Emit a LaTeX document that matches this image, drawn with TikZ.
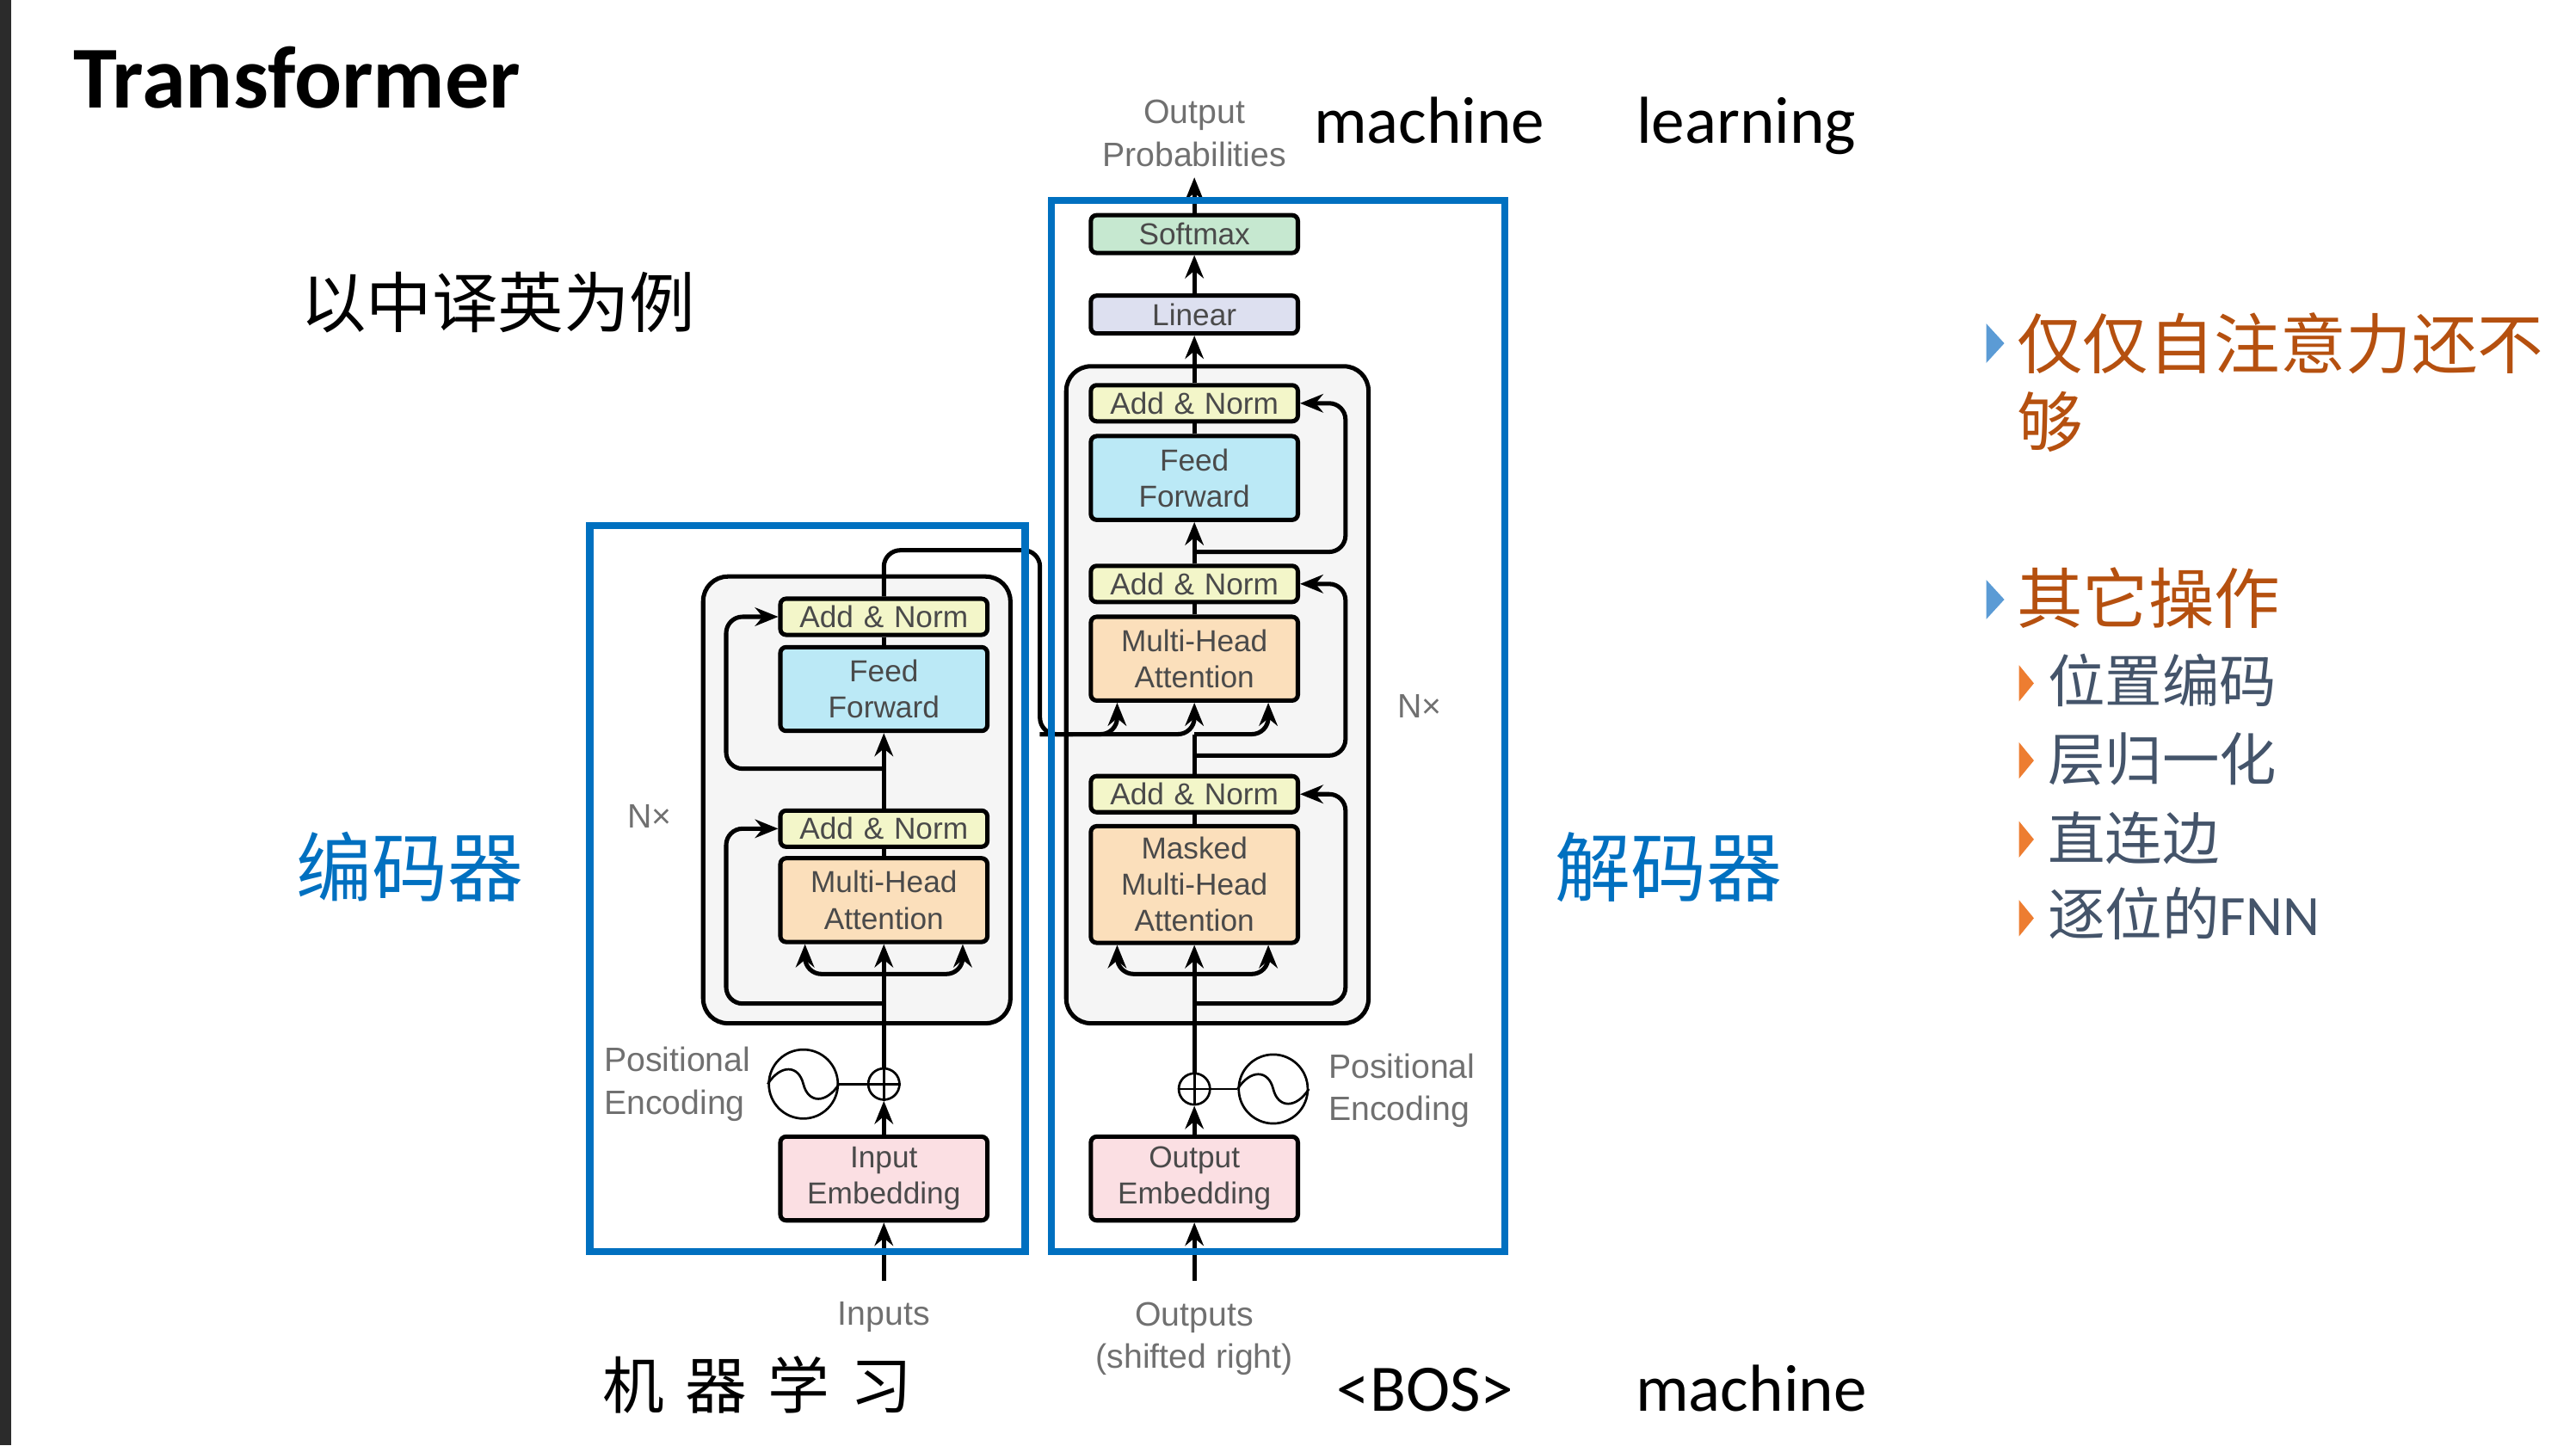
\documentclass[tikz,border=0pt]{standalone}
\usepackage{fontspec}
\setmainfont{Liberation Sans}
\newfontfamily\cjk{Noto Sans CJK SC}
\newfontfamily\calibri{Carlito}
\usetikzlibrary{arrows.meta, calc, backgrounds}
\definecolor{frameblue}{HTML}{0070C0}
\definecolor{headbrown}{HTML}{B5500F}
\definecolor{subslate}{HTML}{44546A}
\definecolor{bulletblue}{HTML}{5B9BD5}
\definecolor{bulletorange}{HTML}{ED7D31}
\definecolor{stripedark}{HTML}{2B2B2B}
\definecolor{labelgray}{HTML}{707070}
\definecolor{boxtext}{HTML}{4A4A4A}
\definecolor{normbg}{HTML}{F3F6C9}
\definecolor{feedbg}{HTML}{BBE9F6}
\definecolor{attnbg}{HTML}{FBDFBB}
\definecolor{embedbg}{HTML}{FBDFE3}
\definecolor{softbg}{HTML}{C6E8D0}
\definecolor{linearbg}{HTML}{DDE0F0}
\definecolor{stackbg}{HTML}{F5F5F5}

\begin{document}
\begin{tikzpicture}[
    font=\fontsize{5.25pt}{6.26pt}\selectfont,
    >={Stealth[length=4pt, width=3.2pt]},
    % ── shared styles ──
    block/.style={draw=black, line width=0.75pt, rounded corners=1pt,
        minimum width=1.26cm, text width=1.22cm, align=center, inner sep=0pt,
        text=boxtext, fill=#1},
    norm box/.style={block=normbg, minimum height=0.22cm},
    tall box/.style={block=#1, minimum height=0.51cm},
    stack box/.style={draw=black, line width=0.75pt, rounded corners=0.15cm,
        fill=stackbg},
    frame box/.style={draw=frameblue, line width=1.3pt},
    flow/.style={draw=black, line width=0.75pt},
    loop flow/.style={flow, rounded corners=0.1cm},
    sum node/.style={draw=black, circle, line width=0.4pt, minimum size=0.19cm,
        inner sep=0pt},
    wave node/.style={draw=black, circle, line width=0.4pt, minimum size=0.42cm,
        inner sep=0pt},
    wave line/.style={draw=black, line width=0.4pt},
    gray label/.style={font=\fontsize{5.85pt}{7.4pt}\selectfont, text=labelgray, align=#1},
    gray label/.default=center,
    latin label/.style={font=\calibri\fontsize{11.5pt}{14pt}\selectfont, text=black, anchor=base},
    title label/.style={font=\calibri\bfseries\fontsize{15.3pt}{18pt}\selectfont, text=black},
    cjk label/.style={font=\cjk\fontsize{11.4pt}{14pt}\selectfont, text=black},
    side label/.style={font=\cjk\fontsize{13.1pt}{16pt}\selectfont, text=frameblue},
    head item/.style={font=\cjk\fontsize{11.4pt}{14pt}\selectfont, text=headbrown, anchor=west, inner sep=0pt},
    sub item/.style={font=\cjk\fontsize{9.9pt}{12pt}\selectfont, text=subslate, anchor=west, inner sep=0pt},
    head bullet/.style={fill=bulletblue},
    sub bullet/.style={fill=bulletorange},
]

\useasboundingbox (0,0) rectangle (15.68,-8.8);
\fill[stripedark] (0,0) rectangle (0.07,-8.8);

% ══════════════════════════════════════════════════════════════════════
%  DIMENSIONS
% ══════════════════════════════════════════════════════════════════════
\def\Ecx{5.38}    % encoder column
\def\Dcx{7.27}    % decoder column

% ══════════════════════════════════════════════════════════════════════
%  STACK BACKGROUNDS
% ══════════════════════════════════════════════════════════════════════
\begin{scope}[on background layer]
  \draw[stack box] (4.28,-3.51) rectangle (6.15,-6.23);
  \draw[stack box] (6.49,-2.23) rectangle (8.33,-6.23);
\end{scope}

% ── Encoder ──
\node[tall box=embedbg] (einput) at (\Ecx,-7.175) {Input\\Embedding};
\node[sum node] (esum) at (\Ecx,-6.60) {};
\node[wave node] (ewave) at (4.89,-6.60) {};
\node[tall box=attnbg] (eattn) at (\Ecx,-5.48) {Multi-Head\\Attention};
\node[norm box] (enorma) at (\Ecx,-5.045) {Add \& Norm};
\node[tall box=feedbg] (efeed) at (\Ecx,-4.195) {Feed\\Forward};
\node[norm box] (enormb) at (\Ecx,-3.755) {Add \& Norm};

% ── Decoder ──
\node[tall box=embedbg] (doutput) at (\Dcx,-7.175) {Output\\Embedding};
\node[sum node] (dsum) at (\Dcx,-6.63) {};
\node[wave node] (dwave) at (7.75,-6.63) {};
\node[block=attnbg, minimum height=0.71cm] (dmask) at (\Dcx,-5.385) {Masked\\Multi-Head\\Attention};
\node[norm box] (dnorma) at (\Dcx,-4.835) {Add \& Norm};
\node[tall box=attnbg] (dattn) at (\Dcx,-4.01) {Multi-Head\\Attention};
\node[norm box] (dnormb) at (\Dcx,-3.555) {Add \& Norm};
\node[tall box=feedbg] (dfeed) at (\Dcx,-2.91) {Feed\\Forward};
\node[norm box] (dnormc) at (\Dcx,-2.455) {Add \& Norm};
\node[block=linearbg, minimum height=0.23cm] (dlinear) at (\Dcx,-1.915) {Linear};
\node[block=softbg, minimum height=0.23cm] (dsoft) at (\Dcx,-1.425) {Softmax};

% ── Free ends and branch points ──
\coordinate (einfree) at (\Ecx,-7.80);
\coordinate (dinfree) at (\Dcx,-7.80);
\coordinate (doutfree) at (\Dcx,-1.08);
\coordinate (eresa) at (\Ecx,-6.11);
\coordinate (eresb) at (\Ecx,-4.68);
\coordinate (eforka) at (\Ecx,-5.93);
\coordinate (ememdown) at (6.33,-4.47);
\coordinate (dforka) at (\Dcx,-5.93);
\coordinate (dresa) at (\Dcx,-6.11);
\coordinate (dresb) at (\Dcx,-4.60);
\coordinate (dresc) at (\Dcx,-3.36);
\coordinate (dskip) at (\Dcx,-4.47);

% ══════════════════════════════════════════════════════════════════════
%  FLOW ARROWS
% ══════════════════════════════════════════════════════════════════════
\draw[flow, ->] (einfree) -- (einput.south);
\draw[flow, ->] (einput.north) -- (esum.south);
\draw[flow, ->] (esum.north) -- (eattn.south);
\draw[flow] (eattn.north) -- (enorma.south);
\draw[flow, ->] (enorma.north) -- (efeed.south);
\draw[flow] (efeed.north) -- (enormb.south);
\draw[wave line] (ewave.east) -- (esum.west);
\draw[wave line] (esum.west) -- (esum.east);
\draw[wave line] (esum.north) -- (esum.south);

\draw[flow, ->] (dinfree) -- (doutput.south);
\draw[flow, ->] (doutput.north) -- (dsum.south);
\draw[flow, ->] (dsum.north) -- (dmask.south);
\draw[flow] (dmask.north) -- (dnorma.south);
\draw[flow] (dnorma.north) -- (dskip);
\draw[flow] (dattn.north) -- (dnormb.south);
\draw[flow, ->] (dnormb.north) -- (dfeed.south);
\draw[flow] (dfeed.north) -- (dnormc.south);
\draw[flow, ->] (dnormc.north) -- (dlinear.south);
\draw[flow, ->] (dlinear.north) -- (dsoft.south);
\draw[flow, ->] (dsoft.north) -- (doutfree);
\draw[wave line] (dwave.west) -- (dsum.east);
\draw[wave line] (dsum.west) -- (dsum.east);
\draw[wave line] (dsum.north) -- (dsum.south);

% ── Residual loops ──
\draw[loop flow, ->] (eresa) -| (4.42,-5.4) |- (enorma.west);
\draw[loop flow, ->] (eresb) -| (4.42,-4.2) |- (enormb.west);
\draw[loop flow, ->] (dresa) -| (8.19,-5.4) |- (dnorma.east);
\draw[loop flow, ->] (dresb) -| (8.19,-4.0) |- (dnormb.east);
\draw[loop flow, ->] (dresc) -| (8.19,-2.9) |- (dnormc.east);

% ── Attention forks ──
\draw[loop flow, ->] (eforka) -| ([xshift=-0.48cm]eattn.south);
\draw[loop flow, ->] (eforka) -| ([xshift=0.48cm]eattn.south);
\draw[loop flow, ->] (dforka) -| ([xshift=-0.47cm]dmask.south);
\draw[loop flow, ->] (dforka) -| ([xshift=0.45cm]dmask.south);

% ── Encoder memory into the decoder ──
\draw[loop flow] (enormb.north) |- (6.33,-3.35) -- (ememdown) -- ++(0.2,0);
\draw[loop flow, ->] (ememdown) -| ([xshift=-0.47cm]dattn.south);
\draw[loop flow, ->] (ememdown) -| (dattn.south);
\draw[loop flow, ->] (dskip) -| ([xshift=0.45cm]dattn.south);

% ── Wave curves ──
\draw[wave line] (ewave.west) .. controls (4.75,-6.48) and (4.86,-6.48) .. (ewave.center)
    .. controls (4.92,-6.72) and (5.03,-6.72) .. (ewave.east);
\draw[wave line] (dwave.west) .. controls (7.61,-6.51) and (7.72,-6.51) .. (dwave.center)
    .. controls (7.78,-6.75) and (7.89,-6.75) .. (dwave.east);

% ══════════════════════════════════════════════════════════════════════
%  FRAMES + side captions
% ══════════════════════════════════════════════════════════════════════
\draw[frame box] (3.59,-3.20) rectangle (6.24,-7.62);
\draw[frame box] (6.40,-1.22) rectangle (9.16,-7.62);
\node[side label] (encname) at (2.495,-5.28) {编码器};
\node[side label] (decname) at (10.155,-5.28) {解码器};

% ── Diagram labels ──
\node[gray label] (outprob) at (\Dcx,-0.81) {Output\\Probabilities};
\node[gray label] (inlabel) at (\Ecx,-8.02) {Inputs};
\node[gray label] (outlabel) at (\Dcx,-8.15) {Outputs\\(shifted right)};
\node[gray label] (enx) at (3.955,-4.97) {N×};
\node[gray label] (dnx) at (8.64,-4.30) {N×};
\node[gray label=left, anchor=west, inner sep=0pt] (epos) at (3.67,-6.60) {Positional\\Encoding};
\node[gray label=left, anchor=west, inner sep=0pt] (dpos) at (8.08,-6.64) {Positional\\Encoding};

% ── Slide text ──
\node[title label, anchor=west, inner sep=0pt] (title) at (0.44,-0.47) {Transformer};
\node[cjk label] (subtitle) at (3.03,-1.84) {以中译英为例};
\node[latin label] (wordmachine) at (8.70,-0.87) {machine};
\node[latin label] (wordlearning) at (10.63,-0.87) {learning};
\node[cjk label, font=\cjk\fontsize{10.7pt}{13pt}\selectfont] (wordzh) at (4.61,-8.43) {\spaceskip=0.34em 机 器 学 习};
\node[latin label] (wordbos) at (8.675,-8.59) {<BOS>};
\node[latin label] (wordmachineb) at (10.66,-8.59) {machine};

% ══════════════════════════════════════════════════════════════════════
%  BULLET LIST
% ══════════════════════════════════════════════════════════════════════
\fill[head bullet] (12.09,-1.97) -- (12.20,-2.09) -- (12.09,-2.21) -- cycle;
\fill[head bullet] (12.09,-3.53) -- (12.20,-3.65) -- (12.09,-3.77) -- cycle;
\fill[sub bullet] (12.29,-4.05) -- (12.38,-4.16) -- (12.29,-4.27) -- cycle;
\fill[sub bullet] (12.29,-4.52) -- (12.38,-4.63) -- (12.29,-4.74) -- cycle;
\fill[sub bullet] (12.29,-5.00) -- (12.38,-5.11) -- (12.29,-5.22) -- cycle;
\fill[sub bullet] (12.29,-5.48) -- (12.38,-5.59) -- (12.29,-5.70) -- cycle;
\node[head item] (itemself) at (12.27,-2.09) {仅仅自注意力还不};
\node[head item] (itemselfb) at (12.27,-2.57) {够};
\node[head item] (itemother) at (12.27,-3.64) {其它操作};
\node[sub item] (itempos) at (12.46,-4.14) {位置编码};
\node[sub item] (itemnorm) at (12.46,-4.62) {层归一化};
\node[sub item] (itemskip) at (12.46,-5.10) {直连边};
\node[sub item] (itemfnn) at (12.46,-5.56) {逐位的\calibri FNN};

\end{tikzpicture}
\end{document}
